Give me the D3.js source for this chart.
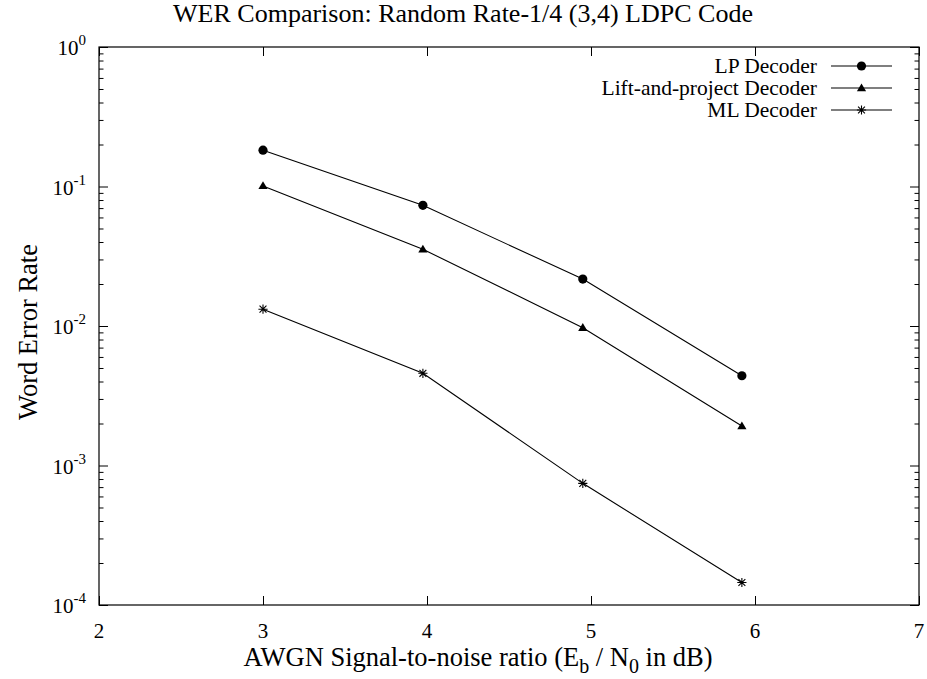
<!DOCTYPE html>
<html><head><meta charset="utf-8">
<script src="https://cdn.jsdelivr.net/npm/d3@7"></script>
<style>body{margin:0;background:#fff}svg{display:block}text{font-family:"Liberation Serif","Times New Roman",serif;fill:#000}</style>
</head><body>
<script>
const snr = [3.0, 3.975, 4.95, 5.92];
const lpWER = [0.182, 0.0733, 0.0217, 0.00440];
const liftWER = [0.101, 0.0355, 0.00973, 0.00192];
const mlWER = [0.0132, 0.00458, 0.000745, 0.000145];
const seriesNames = ["LP Decoder", "Lift-and-project Decoder", "ML Decoder"];
const seriesMarkers = ["circle", "triangle", "star"];
const xTicks = [2, 3, 4, 5, 6, 7];
const yTicks = [1, 0.1, 0.01, 0.001, 0.0001];
const yTickExp = ["0", "-1", "-2", "-3", "-4"];

const W = 927, H = 679;
const m = {l: 99, r: 919, t: 47, b: 605};
const svg = d3.select("body").append("svg").attr("width", W).attr("height", H);
const x = d3.scaleLinear().domain([2, 7]).range([m.l, m.r]);
const y = d3.scaleLog().domain([1e-4, 1]).range([m.b, m.t]);

const minor = [];
for (let e = -4; e < 0; e++) for (let k = 2; k <= 9; k++) minor.push(k * Math.pow(10, e));

const g = svg.append("g");
g.append("g").attr("transform", `translate(${m.l},0)`).call(d3.axisLeft(y).tickValues(yTicks).tickSize(-9).tickFormat("").tickSizeOuter(0));
g.append("g").attr("transform", `translate(${m.l},0)`).call(d3.axisLeft(y).tickValues(minor).tickSize(-4.5).tickFormat("").tickSizeOuter(0));
g.append("g").attr("transform", `translate(${m.r},0)`).call(d3.axisRight(y).tickValues(yTicks).tickSize(-9).tickFormat("").tickSizeOuter(0));
g.append("g").attr("transform", `translate(${m.r},0)`).call(d3.axisRight(y).tickValues(minor).tickSize(-4.5).tickFormat("").tickSizeOuter(0));
g.append("g").attr("transform", `translate(0,${m.b})`).call(d3.axisBottom(x).tickValues(xTicks).tickSize(-9).tickFormat("").tickSizeOuter(0));
g.append("g").attr("transform", `translate(0,${m.t})`).call(d3.axisTop(x).tickValues(xTicks).tickSize(-9).tickFormat("").tickSizeOuter(0));
g.selectAll(".domain").remove();
g.selectAll("line").attr("stroke", "#000").attr("stroke-width", 1);

svg.append("rect").attr("x", m.l).attr("y", m.t).attr("width", m.r - m.l).attr("height", m.b - m.t)
  .attr("fill", "none").attr("stroke", "#000").attr("stroke-width", 1.2);

xTicks.forEach(v => {
  svg.append("text").attr("x", x(v)).attr("y", 638).attr("text-anchor", "middle").attr("font-size", 21).text(v);
});
yTicks.forEach((v, i) => {
  const t = svg.append("text").attr("x", 86).attr("y", y(v) + 8).attr("text-anchor", "end").attr("font-size", 21);
  t.append("tspan").text("10");
  t.append("tspan").attr("dy", -10).attr("font-size", 15).text(yTickExp[i]);
});

svg.append("text").attr("x", 463).attr("y", 22).attr("text-anchor", "middle").attr("font-size", 26).text("WER Comparison: Random Rate-1/4 (3,4) LDPC Code");
const xl = svg.append("text").attr("x", 478).attr("y", 666).attr("text-anchor", "middle").attr("font-size", 26.5);
xl.append("tspan").text("AWGN Signal-to-noise ratio (E");
xl.append("tspan").attr("dy", 7).attr("font-size", 20).text("b");
xl.append("tspan").attr("dy", -7).text(" / N");
xl.append("tspan").attr("dy", 7).attr("font-size", 20).text("0");
xl.append("tspan").attr("dy", -7).text(" in dB)");
svg.append("text").attr("transform", "translate(37,332) rotate(-90)").attr("text-anchor", "middle").attr("font-size", 26.5).text("Word Error Rate");

function drawMarker(sel, type, cx, cy) {
  if (type === "circle") {
    sel.append("circle").attr("cx", cx).attr("cy", cy).attr("r", 4.6).attr("fill", "#000");
  } else if (type === "triangle") {
    const s = 4.6;
    sel.append("path").attr("d", `M${cx},${cy - s}L${cx + s},${cy + s * 0.7}L${cx - s},${cy + s * 0.7}Z`).attr("fill", "#000");
  } else {
    const s = 4.6;
    sel.append("path").attr("d", `M${cx - s},${cy}H${cx + s}M${cx},${cy - s}V${cy + s}M${cx - s * 0.75},${cy - s * 0.75}L${cx + s * 0.75},${cy + s * 0.75}M${cx - s * 0.75},${cy + s * 0.75}L${cx + s * 0.75},${cy - s * 0.75}`)
      .attr("stroke", "#000").attr("stroke-width", 1.1).attr("fill", "none");
  }
}

const allSeries = [lpWER, liftWER, mlWER];
const line = d3.line().x(d => x(d[0])).y(d => y(d[1]));
allSeries.forEach((vals, si) => {
  const pts = snr.map((s, i) => [s, vals[i]]);
  svg.append("path").attr("d", line(pts)).attr("fill", "none").attr("stroke", "#000").attr("stroke-width", 1.1);
  const mg = svg.append("g");
  pts.forEach(p => drawMarker(mg, seriesMarkers[si], x(p[0]), y(p[1])));
});

seriesNames.forEach((n, i) => {
  const yy = 66 + i * 22;
  svg.append("text").attr("x", 817).attr("y", yy + 7).attr("text-anchor", "end").attr("font-size", 21.5).text(n);
  svg.append("line").attr("x1", 831).attr("x2", 892).attr("y1", yy).attr("y2", yy).attr("stroke", "#000").attr("stroke-width", 1.1);
  drawMarker(svg, seriesMarkers[i], 861.5, yy);
});
</script>
</body></html>
